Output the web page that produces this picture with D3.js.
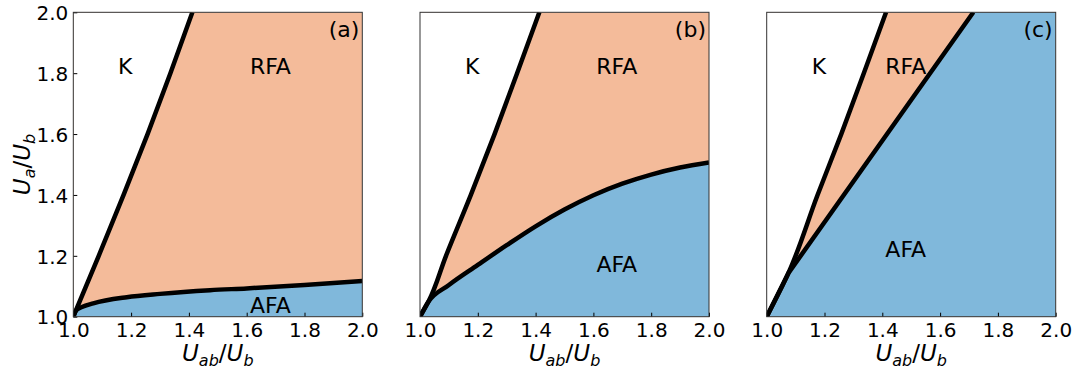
<!DOCTYPE html>
<html><head><meta charset="utf-8">
<script src="https://cdn.jsdelivr.net/npm/d3@7"></script>
<style>body{margin:0;background:#fff} text{font-family:"DejaVu Sans",sans-serif;fill:#000}</style>
</head><body><svg id="c" width="1082" height="376"></svg>
<script>
// ---- data ----
const xTicks = [1.0, 1.2, 1.4, 1.6, 1.8, 2.0];
const yTicks = [1.0, 1.2, 1.4, 1.6, 1.8, 2.0];
const panelNames = ["(a)", "(b)", "(c)"];
const phaseNames = ["K", "RFA", "AFA"];
// K / RFA boundary  [Uab/Ub, Ua/Ub]
const kLineA = [[1,1],[1.088,1.2],[1.174,1.4],[1.257,1.6],[1.336,1.8],[1.412,2.0]];
const kLineB = [[1,1],[1.029,1.049],[1.09,1.2],[1.176,1.4],[1.258,1.6],[1.336,1.8],[1.413,2.0]];
const kLineC = [[1,1],[1.075,1.143],[1.176,1.4],[1.258,1.6],[1.336,1.8],[1.413,2.0]];
// RFA / AFA boundary
const afaLineA = [[1,1],[1.01,1.021],[1.03,1.032],[1.069,1.044],[1.185,1.064],[1.3,1.075],[1.473,1.087],[1.6,1.093],[1.8,1.104],[2.0,1.117]];
const afaLineB = [[1,1],[1.029,1.049],[1.1,1.104],[1.2,1.17],[1.3,1.235],[1.4,1.297],[1.5,1.352],[1.6,1.399],[1.7,1.437],[1.8,1.467],[1.9,1.49],[2.0,1.507]];
const afaLineC = [[1,1],[1.075,1.143],[1.715,2.0]];
// phase label positions (data coords) per panel: K, RFA, AFA
const labelPosA = [[1.18,1.824],[1.682,1.824],[1.682,1.039]];
const labelPosB = [[1.181,1.824],[1.681,1.824],[1.681,1.172]];
const labelPosC = [[1.181,1.824],[1.481,1.824],[1.481,1.222]];

// ---- layout ----
const svg = d3.select("#c");
const W = 289, H = 304.4, topY = 12.3;
const lefts = [73.3, 420, 766.7];
const orange = "#f4bb9a", blue = "#80b8db";

const x = d3.scaleLinear().domain([1,2]).range([0,W]);
const y = d3.scaleLinear().domain([1,2]).range([H,0]);

const panels = [
  {k:kLineA, afa:afaLineA, lab:labelPosA, kc:d3.curveMonotoneY, ac:d3.curveMonotoneX, afaTop:false, yAxis:true},
  {k:kLineB, afa:afaLineB, lab:labelPosB, kc:d3.curveMonotoneY, ac:d3.curveMonotoneX, afaTop:false, yAxis:false},
  {k:kLineC, afa:afaLineC, lab:labelPosC, kc:d3.curveMonotoneY, ac:d3.curveLinear, afaTop:true, yAxis:false}
];

function mathLabel(sel, main, sub){
  sel.append("tspan").attr("font-style","italic").text("U");
  sel.append("tspan").attr("font-style","italic").attr("font-size",16).attr("dy",5).text(main);
  sel.append("tspan").attr("dy",-5).text("/");
  sel.append("tspan").attr("font-style","italic").text("U");
  sel.append("tspan").attr("font-style","italic").attr("font-size",16).attr("dy",5).text(sub);
}

panels.forEach((p,i)=>{
  const g = svg.append("g").attr("transform",`translate(${lefts[i]},${topY})`);
  const cid = "clip"+i;
  g.append("clipPath").attr("id",cid).append("rect").attr("width",W).attr("height",H);
  const pg = g.append("g").attr("clip-path",`url(#${cid})`);
  pg.append("rect").attr("width",W).attr("height",H).attr("fill",orange);
  pg.append("path").datum(p.k)
    .attr("d", d3.area().curve(p.kc).y(d=>y(d[1])).x0(x(1)).x1(d=>x(d[0])))
    .attr("fill","#fff");
  let apts = p.afa.slice();
  if (p.afaTop) apts = apts.concat([[2,2]]);
  pg.append("path").datum(apts)
    .attr("d", d3.area().curve(p.ac).x(d=>x(d[0])).y0(y(1)).y1(d=>y(d[1])))
    .attr("fill",blue);
  pg.append("path").datum(p.k)
    .attr("d", d3.line().curve(p.kc).x(d=>x(d[0])).y(d=>y(d[1])))
    .attr("fill","none").attr("stroke","#000").attr("stroke-width",4.5).attr("stroke-linejoin","round");
  pg.append("path").datum(p.afa)
    .attr("d", d3.line().curve(p.ac).x(d=>x(d[0])).y(d=>y(d[1])))
    .attr("fill","none").attr("stroke","#000").attr("stroke-width",4.5).attr("stroke-linejoin","round");

  const xa = g.append("g").attr("transform",`translate(0,${H})`)
    .call(d3.axisBottom(x).tickValues(xTicks).tickFormat(d3.format(".1f")).tickSizeInner(-4).tickSizeOuter(0).tickPadding(8));
  xa.select(".domain").remove();
  xa.selectAll("text").attr("font-size",20).attr("font-family","DejaVu Sans").attr("dy","0.71em").attr("y",6);
  xa.selectAll("line").attr("stroke","#000");
  if (p.yAxis){
    const ya = g.append("g")
      .call(d3.axisLeft(y).tickValues(yTicks).tickFormat(d3.format(".1f")).tickSizeInner(-4).tickSizeOuter(0).tickPadding(5));
    ya.select(".domain").remove();
    ya.selectAll("text").attr("font-size",20).attr("font-family","DejaVu Sans").attr("x",-5).attr("dy","0.36em");
    ya.selectAll("line").attr("stroke","#000");
  }
  g.append("rect").attr("width",W).attr("height",H).attr("fill","none").attr("stroke","#333").attr("stroke-width",1);

  phaseNames.forEach((n,j)=>{
    g.append("text").attr("x",x(p.lab[j][0])).attr("y",y(p.lab[j][1]))
      .attr("text-anchor","middle").attr("dy","0.36em").attr("font-size",22).text(n);
  });
  g.append("text").attr("x",W-3).attr("y",24.5).attr("text-anchor","end").attr("font-size",22).text(panelNames[i]);

  const xl = g.append("text").attr("x",W/2).attr("y",349).attr("text-anchor","middle").attr("font-size",23);
  mathLabel(xl, "ab", "b");
  if (p.yAxis){
    const yl = g.append("text").attr("transform",`translate(${30-lefts[i]},${H/2}) rotate(-90)`)
      .attr("text-anchor","middle").attr("font-size",23);
    mathLabel(yl, "a", "b");
  }
});
</script></body></html>
